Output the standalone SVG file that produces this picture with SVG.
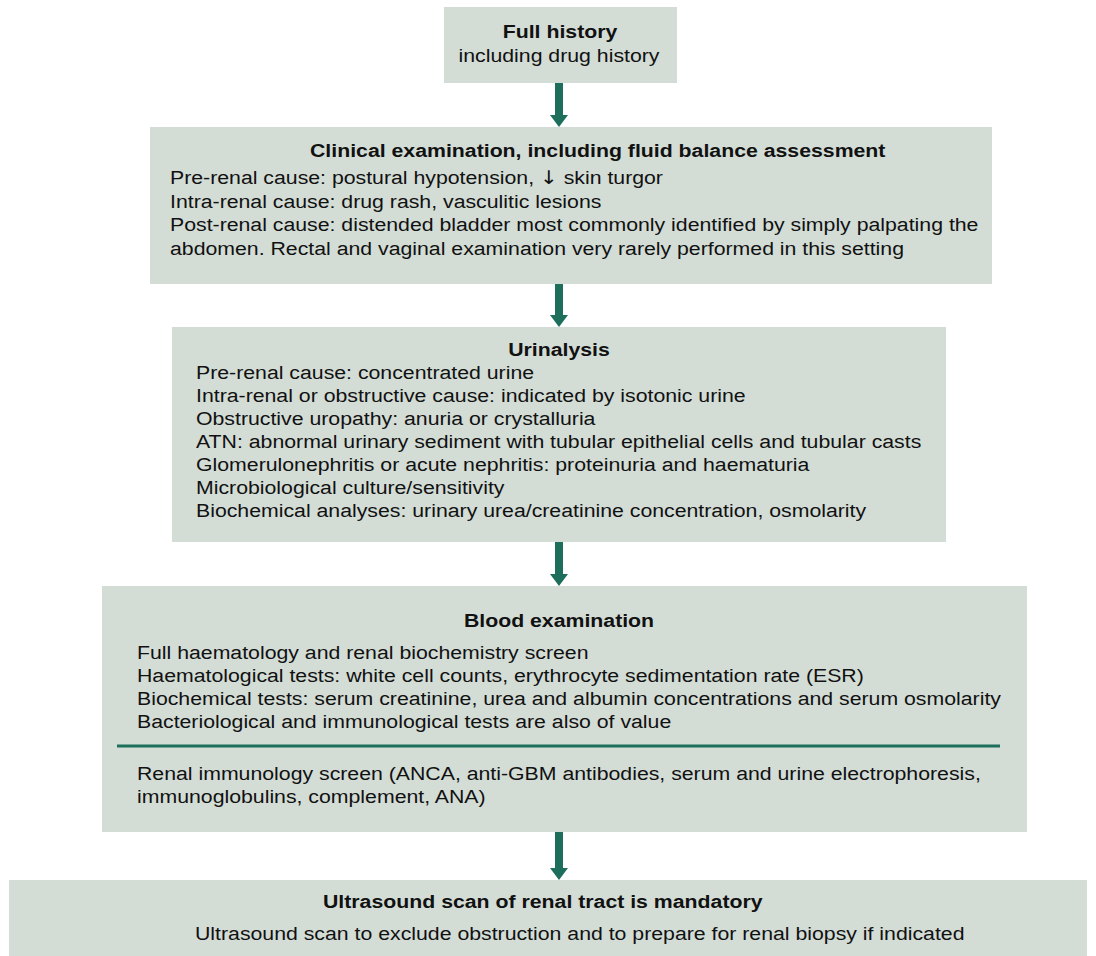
<svg xmlns="http://www.w3.org/2000/svg" width="1096" height="956" viewBox="0 0 1096 956">
<defs>
<style>
.box{fill:#d3ddd6;}
text{font-family:"Liberation Sans",Arial,Helvetica,sans-serif;font-size:19px;fill:#111;}
.b{font-weight:bold;}
.c{text-anchor:middle;}
.arr{font-family:"DejaVu Sans",sans-serif;}
.shaft{stroke:#1d6e5a;stroke-width:8;fill:none;}
.div{stroke:#1d6e5a;stroke-width:3;}
</style>
<marker id="ah" viewBox="0 0 12 18" refX="0" refY="9" markerWidth="12" markerHeight="18" markerUnits="userSpaceOnUse" orient="auto">
<path d="M0,0 L12,9 L0,18 z" fill="#1d6e5a"/>
</marker>
</defs>
<rect width="1096" height="956" fill="#fff"/>
<g id="history">
<rect class="box" x="444" y="7" width="233" height="76"/>
<text class="b c" transform="translate(560,38) scale(1.12 1)">Full history</text>
<text class="c" transform="translate(559,62) scale(1.12 1)">including drug history</text>
</g>
<g id="clinical">
<rect class="box" x="150" y="127" width="842" height="157"/>
<text class="b" transform="translate(310,157) scale(1.12 1)">Clinical examination, including fluid balance assessment</text>
<text transform="translate(170,184) scale(1.12 1)"><tspan x="0" y="0">Pre-renal cause: postural hypotension, <tspan class="arr">↓</tspan> skin turgor</tspan><tspan x="0" y="23.7">Intra-renal cause: drug rash, vasculitic lesions</tspan><tspan x="0" y="47.4">Post-renal cause: distended bladder most commonly identified by simply palpating the</tspan><tspan x="0" y="71">abdomen. Rectal and vaginal examination very rarely performed in this setting</tspan></text>
</g>
<g id="urinalysis">
<rect class="box" x="172" y="327" width="774" height="215"/>
<text class="b c" transform="translate(559,356) scale(1.12 1)">Urinalysis</text>
<text transform="translate(196,379) scale(1.12 1)"><tspan x="0" y="0">Pre-renal cause: concentrated urine</tspan><tspan x="0" y="23">Intra-renal or obstructive cause: indicated by isotonic urine</tspan><tspan x="0" y="46">Obstructive uropathy: anuria or crystalluria</tspan><tspan x="0" y="69">ATN: abnormal urinary sediment with tubular epithelial cells and tubular casts</tspan><tspan x="0" y="92">Glomerulonephritis or acute nephritis: proteinuria and haematuria</tspan><tspan x="0" y="115">Microbiological culture/sensitivity</tspan><tspan x="0" y="138">Biochemical analyses: urinary urea/creatinine concentration, osmolarity</tspan></text>
</g>
<g id="blood">
<rect class="box" x="102" y="586" width="925" height="246"/>
<text class="b c" transform="translate(559,627) scale(1.12 1)">Blood examination</text>
<text transform="translate(137,659) scale(1.12 1)"><tspan x="0" y="0">Full haematology and renal biochemistry screen</tspan><tspan x="0" y="23">Haematological tests: white cell counts, erythrocyte sedimentation rate (ESR)</tspan><tspan x="0" y="46">Biochemical tests: serum creatinine, urea and albumin concentrations and serum osmolarity</tspan><tspan x="0" y="69">Bacteriological and immunological tests are also of value</tspan></text>
<line class="div" x1="117" y1="746" x2="1000" y2="746"/>
<text transform="translate(137,780) scale(1.12 1)"><tspan x="0" y="0">Renal immunology screen (ANCA, anti-GBM antibodies, serum and urine electrophoresis,</tspan><tspan x="0" y="23">immunoglobulins, complement, ANA)</tspan></text>
</g>
<g id="ultrasound">
<rect class="box" x="9" y="880" width="1078" height="76"/>
<text class="b" transform="translate(323,908) scale(1.12 1)">Ultrasound scan of renal tract is mandatory</text>
<text transform="translate(195,940) scale(1.12 1)">Ultrasound scan to exclude obstruction and to prepare for renal biopsy if indicated</text>
</g>
<g id="connectors">
<line class="shaft" x1="559" y1="83" x2="559" y2="115" marker-end="url(#ah)"/>
<line class="shaft" x1="559" y1="284" x2="559" y2="315" marker-end="url(#ah)"/>
<line class="shaft" x1="559" y1="542" x2="559" y2="574" marker-end="url(#ah)"/>
<line class="shaft" x1="559" y1="832" x2="559" y2="868" marker-end="url(#ah)"/>
</g>
</svg>
